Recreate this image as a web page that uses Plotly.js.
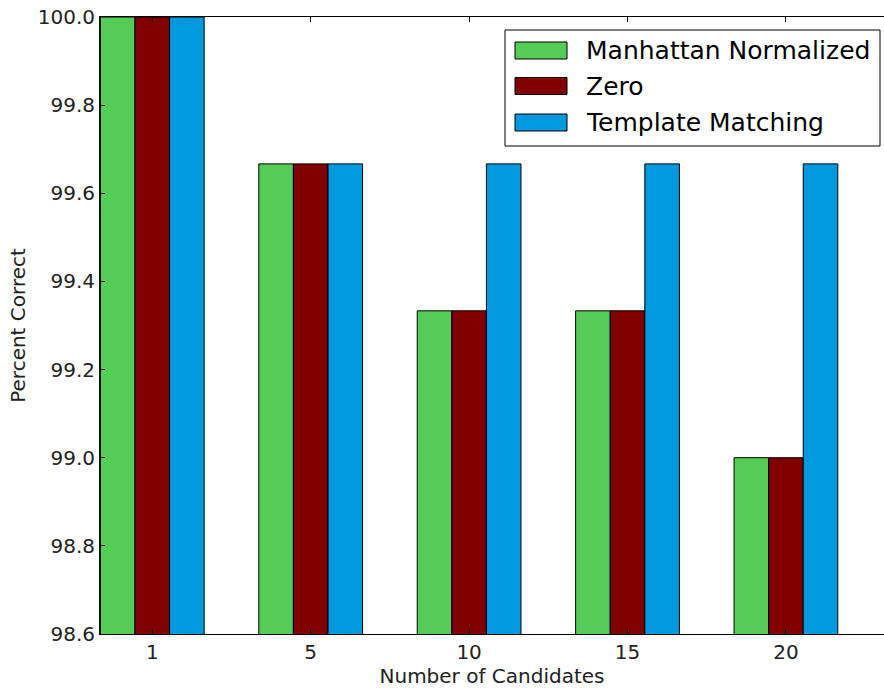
<!DOCTYPE html>
<html>
<head>
<meta charset="utf-8">
<script src="https://cdn.plot.ly/plotly-3.0.1.min.js"></script>
<style>html,body{margin:0;padding:0;background:#fff;}#chart{width:884px;height:688px;}</style>
</head>
<body>
<div id="chart"></div>
<script>
// ---- data ----
const candidates = ["1", "5", "10", "15", "20"];
const seriesNames = ["Manhattan Normalized", "Zero", "Template Matching"];
const manhattanNormalized = [100.0, 99.6667, 99.3333, 99.3333, 99.0];
const zero = [100.0, 99.6667, 99.3333, 99.3333, 99.0];
const templateMatching = [100.0, 99.6667, 99.6667, 99.6667, 99.6667];
const yTickValues = [98.6, 98.8, 99.0, 99.2, 99.4, 99.6, 99.8, 100.0];

// ---- style ----
const colors = ["#55cc55", "#800000", "#0099dd"];
const FONT = "DejaVu Sans, sans-serif";
const W = 884, H = 688;
const M = {l: 100, r: 0, t: 17, b: 54};
const PW = W - M.l - M.r, PH = H - M.t - M.b;
const px = x => (x - M.l) / PW;
const py = y => (H - M.b - y) / PH;

const seriesValues = [manhattanNormalized, zero, templateMatching];
const traces = seriesValues.map((vals, i) => ({
  type: "bar",
  name: seriesNames[i],
  x: candidates,
  y: vals,
  marker: {color: colors[i], line: {color: "#000", width: 1}},
  showlegend: false,
  hoverinfo: "x+y+name"
}));

// manual matplotlib-style legend
const shapes = [{
  type: "rect", xref: "paper", yref: "paper",
  x0: px(505), x1: px(880), y0: py(146), y1: py(30),
  line: {color: "#000", width: 1}, fillcolor: "#fff", layer: "above"
}];
const annotations = [];
const rowCenters = [50.5, 86, 122.5];
seriesNames.forEach((n, i) => {
  const c = rowCenters[i];
  shapes.push({
    type: "rect", xref: "paper", yref: "paper",
    x0: px(515), x1: px(567), y0: py(c + 8.5), y1: py(c - 8.5),
    line: {color: "#000", width: 1}, fillcolor: colors[i], layer: "above"
  });
  annotations.push({
    xref: "paper", yref: "paper", x: px(584), y: py(c),
    xanchor: "left", yanchor: "middle", showarrow: false,
    text: n, font: {family: FONT, size: 25, color: "#000"}
  });
});

const layout = {
  width: W, height: H,
  margin: M,
  paper_bgcolor: "#fff", plot_bgcolor: "#fff",
  barmode: "group", bargap: 0.345, bargroupgap: 0,
  font: {family: FONT, color: "#000"},
  xaxis: {
    type: "category",
    range: [-0.330, 4.619],
    showline: true, linecolor: "#000", linewidth: 1, mirror: "ticks",
    ticks: "inside", ticklen: 5, tickcolor: "#000",
    showgrid: false, zeroline: false,
    tickfont: {family: FONT, size: 20, color: "#222"},
    title: {text: "Number of Candidates", font: {family: FONT, size: 20, color: "#222"}, standoff: 4}
  },
  yaxis: {
    range: [98.6, 100.0],
    tickvals: yTickValues,
    tickformat: ".1f",
    showline: true, linecolor: "#000", linewidth: 1, mirror: false,
    ticks: "inside", ticklen: 5, tickcolor: "#000",
    showgrid: false, zeroline: false,
    tickfont: {family: FONT, size: 20, color: "#222"},
    title: {text: "Percent Correct", font: {family: FONT, size: 20, color: "#222"}, standoff: 6}
  },
  shapes: shapes,
  annotations: annotations,
  showlegend: false
};

Plotly.newPlot("chart", traces, layout, {displayModeBar: false, staticPlot: false});
</script>
</body>
</html>
